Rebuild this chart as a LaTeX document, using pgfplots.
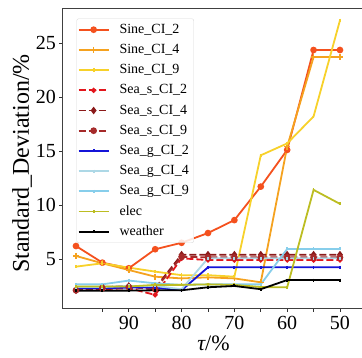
\documentclass[border=0pt]{standalone}
\usepackage{fontspec}
\setmainfont{Liberation Serif}
\usepackage{pgfplots}
\pgfplotsset{compat=1.18}
\definecolor{cSineA}{HTML}{F4511E}
\definecolor{cSineB}{HTML}{F5A21F}
\definecolor{cSineC}{HTML}{F7D12A}
\definecolor{cSeaSA}{HTML}{E3161C}
\definecolor{cSeaSB}{HTML}{8B1A1A}
\definecolor{cSeaSC}{HTML}{A52A2A}
\definecolor{cSeaGA}{HTML}{1414D8}
\definecolor{cSeaGB}{HTML}{ADD8E6}
\definecolor{cSeaGC}{HTML}{87CEEB}
\definecolor{cElec}{HTML}{BCBD22}
\begin{document}
\begin{tikzpicture}
\begin{axis}[name=ax, scale only axis, width=301pt, height=300pt,
  x dir=reverse, xmin=45.45, xmax=102.46, ymin=0.46, ymax=28.24,
  xtick={50,55,...,95}, xticklabels={50,,60,,70,,80,,90,},
  ytick={5,10,15,20,25},
  tick align=outside, tick pos=left, major tick length=3.5pt,
  tick style={black!80, line width=0.8pt},
  axis line style={black!75, line width=1pt},
  /pgf/number format/assume math mode=true,
  ticklabel style={font=\fontsize{20}{24}\selectfont},
  xticklabel style={yshift=-1pt},
  xlabel={{\itshape τ}/\%}, ylabel={Standard\_Deviation/\%},
  xlabel style={font=\fontsize{22}{26}\selectfont, at={(axis description cs:0.5,-0.117)}, anchor=center},
  ylabel style={font=\fontsize{24}{28}\selectfont, at={(axis description cs:-0.136,0.482)}, anchor=center},
  every axis plot/.append style={line width=1.8pt},
  legend cell align=left,
  legend image code/.code={\draw[mark repeat=2,mark phase=2,#1] plot coordinates {(0pt,0pt) (15pt,0pt) (30pt,0pt)};},
  legend style={at={(0.045,0.965)}, anchor=north west, draw=black!15, fill=white, fill opacity=0.85, text opacity=1,
    rounded corners=2pt, font=\fontsize{14}{16}\selectfont, row sep=4.2pt, column sep=6pt,
    nodes={inner xsep=4pt, inner ysep=1.5pt, text height=10pt, text depth=3pt}, inner xsep=1pt, inner ysep=3pt},
]
\addplot[cSineA, mark=*, mark size=2.4pt] coordinates {(100,6.2)(95,4.66)(90,4.14)(85,5.9)(80,6.5)(75,7.4)(70,8.6)(65,11.7)(60,15.1)(55,24.35)(50,24.35)};
\addlegendentry{Sine\_CI\_2}
\addplot[cSineB, mark=+, mark size=3pt, mark options={line width=1.5pt}] coordinates {(100,5.28)(95,4.6)(90,3.98)(85,3.36)(80,3.2)(75,3.3)(70,3.2)(65,2.84)(60,15.4)(55,23.7)(50,23.7)};
\addlegendentry{Sine\_CI\_4}
\addplot[cSineC, mark=|, mark size=1.8pt] coordinates {(100,4.29)(95,4.6)(90,4.2)(85,3.83)(80,3.5)(75,3.5)(70,3.36)(65,14.6)(60,15.7)(55,18.2)(50,27.1)};
\addlegendentry{Sine\_CI\_9}
\addplot[cSeaSA, dash pattern=on 7pt off 3pt, mark=*, mark size=1.6pt, mark options={solid}] coordinates {(100,2.1)(95,2.2)(90,2.3)(85,1.67)(80,5.06)(75,4.9)(70,4.9)(65,4.9)(60,4.9)(55,4.9)(50,4.9)};
\addlegendentry{Sea\_s\_CI\_2}
\addplot[cSeaSB, dash pattern=on 7pt off 3pt, mark=diamond*, mark size=2.4pt, mark options={solid}] coordinates {(100,2.1)(95,2.4)(90,2.5)(85,2.3)(80,5.4)(75,5.4)(70,5.4)(65,5.4)(60,5.4)(55,5.4)(50,5.4)};
\addlegendentry{Sea\_s\_CI\_4}
\addplot[cSeaSC, dash pattern=on 7pt off 3pt, mark=*, mark size=2.4pt, mark options={solid}] coordinates {(100,2.1)(95,2.3)(90,2.4)(85,2.2)(80,5.2)(75,5.15)(70,5.15)(65,5.15)(60,5.15)(55,5.15)(50,5.15)};
\addlegendentry{Sea\_s\_CI\_9}
\addplot[cSeaGA, mark=|, mark size=1.5pt] coordinates {(100,2.3)(95,2.3)(90,2.35)(85,2.35)(80,2.1)(75,4.23)(70,4.23)(65,4.23)(60,4.23)(55,4.23)(50,4.23)};
\addlegendentry{Sea\_g\_CI\_2}
\addplot[cSeaGB, mark=|, mark size=1.5pt] coordinates {(100,2.4)(95,2.4)(90,2.5)(85,2.5)(80,2.2)(75,5.06)(70,5.06)(65,5.06)(60,5.06)(55,5.06)(50,5.06)};
\addlegendentry{Sea\_g\_CI\_4}
\addplot[cSeaGC, mark=|, mark size=1.5pt] coordinates {(100,2.65)(95,2.65)(90,3.0)(85,2.75)(80,2.6)(75,2.65)(70,2.65)(65,2.65)(60,5.93)(55,5.93)(50,5.93)};
\addlegendentry{Sea\_g\_CI\_9}
\addplot[cElec, mark=|, mark size=1.5pt] coordinates {(100,2.45)(95,2.45)(90,2.45)(85,2.6)(80,2.6)(75,2.65)(70,2.6)(65,2.4)(60,2.38)(55,11.4)(50,10.1)};
\addlegendentry{elec}
\addplot[black, mark=|, mark size=1.5pt] coordinates {(100,2.07)(95,2.07)(90,2.07)(85,2.1)(80,2.1)(75,2.38)(70,2.5)(65,2.2)(60,3.05)(55,3.05)(50,3.05)};
\addlegendentry{weather}
\end{axis}
\pgfresetboundingbox
\path[use as bounding box] ([shift={(-63pt,-49pt)}]ax.south west) rectangle ([shift={(-2pt,8pt)}]ax.north east);
\end{tikzpicture}
\end{document}
